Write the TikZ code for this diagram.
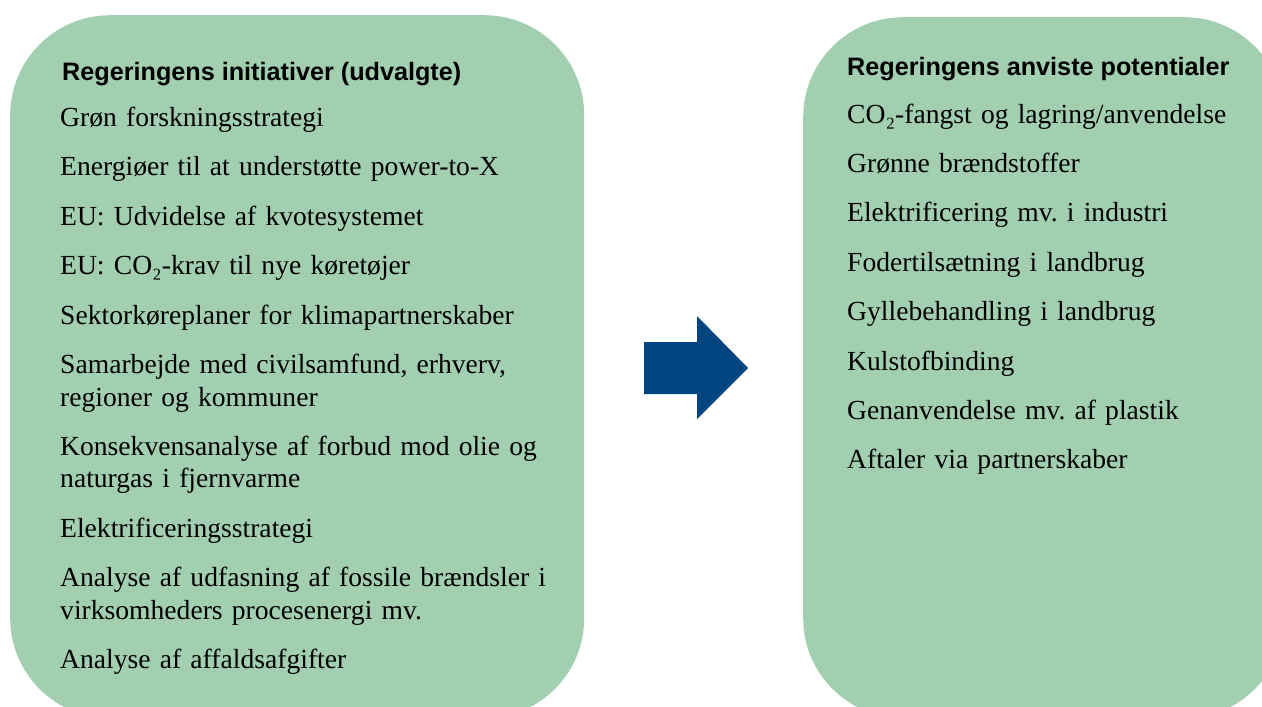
\documentclass[tikz,border=0pt]{standalone}
\usepackage{fontspec}
\setmainfont{Liberation Serif}
\newfontfamily\headfont{Liberation Sans}
\usetikzlibrary{positioning}
\definecolor{panelgreen}{RGB}{161,207,176}
\definecolor{arrowblue}{RGB}{0,69,127}
\frenchspacing

\begin{document}
\begin{tikzpicture}[
  x=1pt, y=-1pt,
  node distance=16.5pt,
  panel/.style={fill=panelgreen,rounded corners=100pt,inner sep=0pt,anchor=north west},
  heading/.style={anchor=base west,inner sep=0pt,
    font=\headfont\bfseries\fontsize{25.2}{30}\selectfont},
  item/.style={inner sep=0pt,align=left,font=\fontsize{27.6}{32.5}\selectfont,
    execute at begin node=\strut,execute at end node=\strut},
  leftitem/.style={item,text width=500pt},
  rightitem/.style={item,text width=420pt}
]
\path[use as bounding box,clip] (0,0) rectangle (1262,707);

% the two panels
\node[panel,minimum width=574pt,minimum height=703pt] (initiativer) at (10,15) {};
\node[panel,minimum width=481pt,minimum height=701pt] (potentialer) at (803,17) {};

% big arrow between them
\fill[arrowblue] (644,342) -- (697,342) -- (697,316) -- (748,368) -- (697,419)
  -- (697,394) -- (644,394) -- cycle;

% left list
\node[heading] (lefthead) at (62,80) {Regeringens initiativer (udvalgte)};
\node[leftitem,anchor=base west] (forskning) at (60,126.5) {Grøn forskningsstrategi};
\node[leftitem,below=of forskning] (energioer) {Energiøer til at understøtte power-to-X};
\node[leftitem,below=of energioer] (kvote) {EU: Udvidelse af kvotesystemet};
\node[leftitem,below=of kvote] (co2krav) {EU: CO₂-krav til nye køretøjer};
\node[leftitem,below=of co2krav] (sektor) {Sektorkøreplaner for klimapartnerskaber};
\node[leftitem,below=of sektor] (samarbejde) {Samarbejde med civilsamfund, erhverv,\\
regioner og kommuner};
\node[leftitem,below=of samarbejde] (konsekvens) {Konsekvensanalyse af forbud mod olie og\\
naturgas i fjernvarme};
\node[leftitem,below=of konsekvens] (elstrategi) {Elektrificeringsstrategi};
\node[leftitem,below=of elstrategi] (fossile) {Analyse af udfasning af fossile brændsler i\\
virksomheders procesenergi mv.};
\node[leftitem,below=of fossile] (affald) {Analyse af affaldsafgifter};

% right list
\node[heading] (righthead) at (847,75) {Regeringens anviste potentialer};
\node[rightitem,anchor=base west] (fangst) at (847,123) {CO₂-fangst og lagring/anvendelse};
\node[rightitem,below=of fangst] (braendstof) {Grønne brændstoffer};
\node[rightitem,below=of braendstof] (elindustri) {Elektrificering mv. i industri};
\node[rightitem,below=of elindustri] (foder) {Fodertilsætning i landbrug};
\node[rightitem,below=of foder] (gylle) {Gyllebehandling i landbrug};
\node[rightitem,below=of gylle] (kulstof) {Kulstofbinding};
\node[rightitem,below=of kulstof] (plastik) {Genanvendelse mv. af plastik};
\node[rightitem,below=of plastik] (aftaler) {Aftaler via partnerskaber};
\end{tikzpicture}
\end{document}
